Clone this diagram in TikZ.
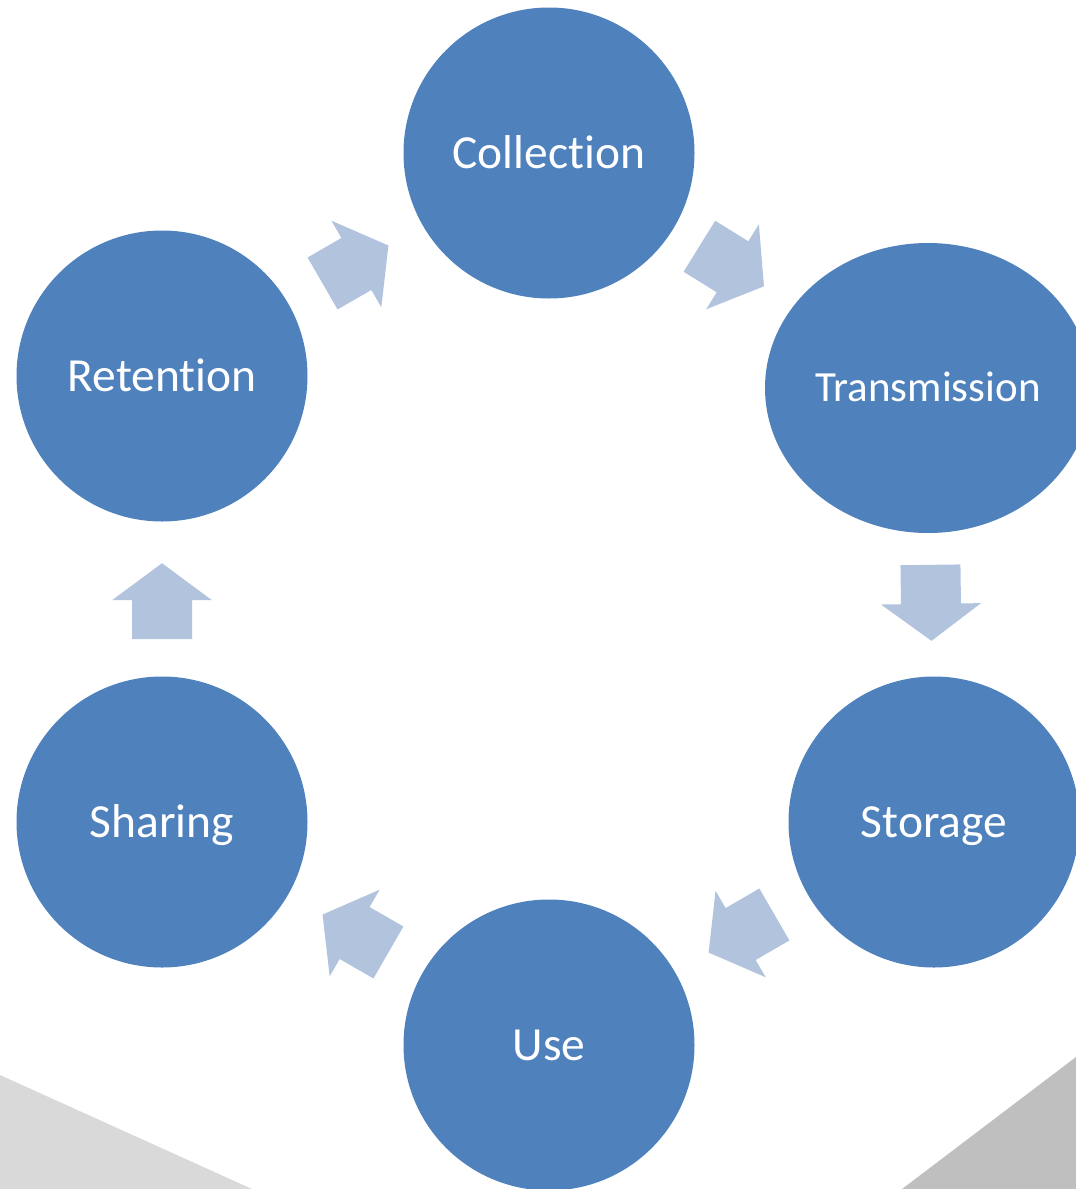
\documentclass[tikz,border=0pt]{standalone}
\usepackage{fontspec}
\setmainfont{Carlito}[RawFeature={-liga}]
\usetikzlibrary{shapes.geometric,calc}
\definecolor{circblue}{HTML}{4F81BD}
\definecolor{arrowblue}{HTML}{B2C3DE}
\definecolor{lgray}{HTML}{D9D9D9}
\definecolor{dgray}{HTML}{BFBFBF}
\tikzset{
  stage/.style={circle, fill=circblue, draw=none, minimum size=291pt, inner sep=0pt,
    text=white, font=\fontsize{47.5}{57}\selectfont, text height=30pt, text depth=0pt},
  blockarrow/.pic={\fill[arrowblue] (-38,-30) -- (1,-30) -- (1,-50) -- (38,0) -- (1,50) -- (1,30) -- (-38,30) -- cycle;}
}
\newcommand\arrowbetween[3][0.5]{\path let \p1=($(#3)-(#2)$), \n1={atan2(\y1,\x1)} in ($(#2)!#1!(#3)$) pic[rotate=\n1] {blockarrow};}
\begin{document}
\begin{tikzpicture}[x=1pt,y=-1pt]
\useasboundingbox (0,0) rectangle (1076,1189);
\clip (0,0) rectangle (1076,1189);
\fill[lgray] (0,1075) -- (252,1189) -- (0,1189) -- cycle;
\fill[dgray] (1076,1057) -- (902,1189) -- (1076,1189) -- cycle;
\node[stage] (col) at (549,153) {Collection};
\node[stage, ellipse, minimum width=326pt, minimum height=290pt, font=\fontsize{43}{52}\selectfont, text height=27.5pt] (tra) at (928,388) {Transmission};
\node[stage] (sto) at (934,822) {Storage};
\node[stage] (use) at (549,1045) {Use};
\node[stage] (sha) at (162,822) {Sharing};
\node[stage] (ret) at (162,376) {Retention};
\arrowbetween{ret}{col}
\arrowbetween[0.482]{col}{tra}
\arrowbetween[0.495]{tra}{sto}
\arrowbetween{sto}{use}
\arrowbetween{use}{sha}
\arrowbetween[0.495]{sha}{ret}
\end{tikzpicture}
\end{document}
